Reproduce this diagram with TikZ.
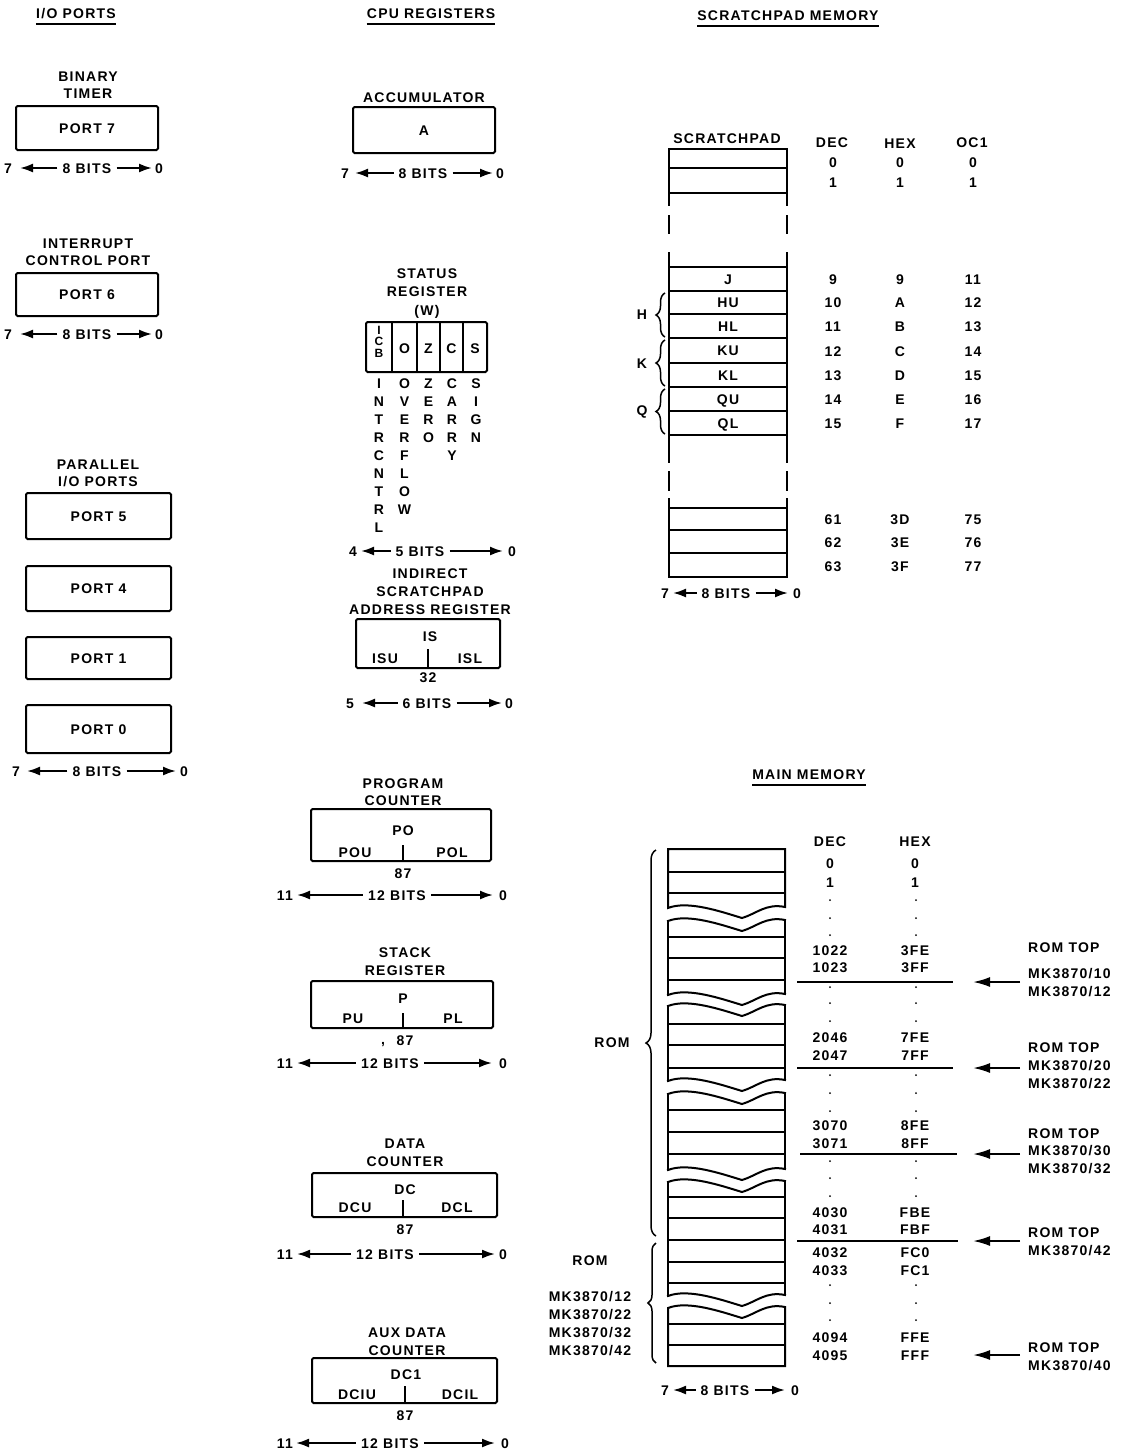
\documentclass[tikz,border=0pt]{standalone}
\usepackage{fontspec}
\setmainfont{Liberation Sans}[LetterSpace=9]
\usetikzlibrary{arrows.meta,decorations.pathreplacing}

\newcommand\bitrow[9]{%
  \node[lbl] (#1L) at (#3,#2) {#4};
  \node[lbl] (#1M) at (#6,#2) {#7};
  \node[lbl] (#1R) at (#9,#2) {0};
  \coordinate (#1a) at (#5,#2);
  \coordinate (#1b) at (#8,#2);
  \draw[bitarrow] ([xshift=-5pt]#1M.west) -- (#1a);
  \draw[bitarrow] ([xshift=5pt]#1M.east) -- (#1b);
}
\newcommand\wavy[1]{(668,#1) .. controls (688,#1-8) and (722,#1+4) .. (742,#1+10) .. controls (756,#1+6) and (766,#1-5) .. (785,#1-1)}

\begin{document}
\begin{tikzpicture}[x=1pt,y=-1pt,
  lbl/.style={font=\fontsize{14}{16}\selectfont\bfseries, inner sep=0pt, text height=10pt, text depth=0pt},
  icb/.style={lbl, font=\fontsize{12}{14}\selectfont\bfseries, text height=8.6pt},
  regbox/.style={lbl, draw, line width=2pt, rounded corners=1.5pt},
  bitarrow/.style={line width=2pt, -{Latex[length=13pt,width=9pt]}},
  bigarrow/.style={line width=2pt, -{Latex[length=17pt,width=10pt]}},
  uline/.style={line width=1.8pt},
  mem/.style={line width=2pt, line cap=rect},
  thinl/.style={line width=1.6pt},
  brc/.style={decorate, decoration={brace, amplitude=#1}, line width=1.5pt}
]
\fill[white] (0,0) rectangle (1136,1452);
\useasboundingbox (0,0) rectangle (1136,1452);

% ---------- headings ----------
\node[lbl] (hio) at (76,13) {I/O PORTS};
\node[lbl] (hcpu) at (431,13) {CPU REGISTERS};
\node[lbl] (hsp) at (788,15) {SCRATCHPAD MEMORY};
\node[lbl] (hmm) at (809,774) {MAIN MEMORY};
\foreach \h in {hio,hcpu,hsp,hmm}
  \draw[uline] ([yshift=-6pt]\h.south west) -- ([yshift=-6pt]\h.south east);

% ---------- I/O ports ----------
\node[lbl] (t1a) at (88,76) {BINARY};
\node[lbl] (t1b) at (88,93) {TIMER};
\node[regbox, minimum width=142pt, minimum height=44pt] (p7) at (87,128) {PORT 7};
\bitrow{bA}{168}{8}{7}{20}{87}{8 BITS}{152}{159}

\node[lbl] (t2a) at (88,243) {INTERRUPT};
\node[lbl] (t2b) at (88,260) {CONTROL PORT};
\node[regbox, minimum width=142pt, minimum height=43pt] (p6) at (87,294.5) {PORT 6};
\bitrow{bB}{334}{8}{7}{20}{87}{8 BITS}{152}{159}

\node[lbl] (t3a) at (98,464) {PARALLEL};
\node[lbl] (t3b) at (98,481) {I/O PORTS};
\node[regbox, minimum width=145pt, minimum height=46pt] (p5) at (98.5,516) {PORT 5};
\node[regbox, minimum width=145pt, minimum height=45pt] (p4) at (98.5,588.5) {PORT 4};
\node[regbox, minimum width=145pt, minimum height=42pt] (p1) at (98.5,658) {PORT 1};
\node[regbox, minimum width=145pt, minimum height=48pt] (p0) at (98.5,729) {PORT 0};
\bitrow{bC}{771}{16}{7}{27}{97}{8 BITS}{176}{184}

% ---------- CPU registers ----------
\node[lbl] (acct) at (424,97) {ACCUMULATOR};
\node[regbox, minimum width=142pt, minimum height=46pt] (acc) at (424,130) {A};
\bitrow{bD}{173}{345}{7}{355}{423}{8 BITS}{493}{500}

\node[lbl] (srt1) at (427,273) {STATUS};
\node[lbl] (srt2) at (427,291) {REGISTER};
\node[lbl] (srt3) at (427,310) {(W)};
\node[regbox, minimum width=121pt, minimum height=50pt] (sr) at (426.5,347) {};
\foreach \x in {392,417,440,463} \draw[line width=1.8pt] (\x,322) -- (\x,372);
\node[icb] (icb1) at (379,330) {I};
\node[icb] (icb2) at (379,341.5) {C};
\node[icb] (icb3) at (379,353) {B};
\node[lbl] (fo) at (404.5,348) {O};
\node[lbl] (fz) at (428.5,348) {Z};
\node[lbl] (fc) at (451.5,348) {C};
\node[lbl] (fs) at (475,348) {S};
\foreach \c [count=\i from 0] in {I,N,T,R,C,N,T,R,L} \node[lbl] (ci\i) at (379,383+18.1*\i) {\c};
\foreach \c [count=\i from 0] in {O,V,E,R,F,L,O,W} \node[lbl] (co\i) at (404.5,383+18.1*\i) {\c};
\foreach \c [count=\i from 0] in {Z,E,R,O} \node[lbl] (cz\i) at (428.5,383+18.1*\i) {\c};
\foreach \c [count=\i from 0] in {C,A,R,R,Y} \node[lbl] (cc\i) at (452,383+18.1*\i) {\c};
\foreach \c [count=\i from 0] in {S,I,G,N} \node[lbl] (cs\i) at (476,383+18.1*\i) {\c};
\bitrow{bE}{551}{353}{4}{361}{420}{5 BITS}{503}{512}

\node[lbl] (ist1) at (430,573) {INDIRECT};
\node[lbl] (ist2) at (430,591) {SCRATCHPAD};
\node[lbl] (ist3) at (430,609) {ADDRESS REGISTER};
\node[regbox, minimum width=144pt, minimum height=49pt] (isr) at (428,643.5) {};
\node[lbl] (is) at (430,636) {IS};
\node[lbl] (isu) at (385,658) {ISU};
\node[lbl] (isl) at (470,658) {ISL};
\coordinate (isd) at (428,649);
\draw[thinl] (isd) -- (isd |- isr.south);
\node[lbl] (is32) at (428,677) {32};
\bitrow{bF}{703}{350}{5}{362}{427}{6 BITS}{502}{509}

\node[lbl] (pct1) at (403,783) {PROGRAM};
\node[lbl] (pct2) at (403,800) {COUNTER};
\node[regbox, minimum width=180pt, minimum height=52pt] (pc) at (401,835) {};
\node[lbl] (po) at (403,830) {PO};
\node[lbl] (pou) at (355,852) {POU};
\node[lbl] (pol) at (452,852) {POL};
\coordinate (pcd) at (403,845);
\draw[thinl] (pcd) -- (pcd |- pc.south);
\node[lbl] (pc87) at (403,873) {87};
\bitrow{bG}{895}{285}{11}{297}{397}{12 BITS}{493}{503}

\node[lbl] (stt1) at (405,952) {STACK};
\node[lbl] (stt2) at (405,970) {REGISTER};
\node[regbox, minimum width=182pt, minimum height=47pt] (st) at (402,1004.5) {};
\node[lbl] (p) at (403,998) {P};
\node[lbl] (pu) at (353,1018) {PU};
\node[lbl] (pl) at (453,1018) {PL};
\coordinate (std) at (403,1013);
\draw[thinl] (std) -- (std |- st.south);
\node[lbl] (st87) at (405,1040) {87};
\node[lbl, anchor=base] (stcm) at (383,1044) {,};
\bitrow{bH}{1063}{285}{11}{297}{390}{12 BITS}{492}{503}

\node[lbl] (dct1) at (405,1143) {DATA};
\node[lbl] (dct2) at (405,1161) {COUNTER};
\node[regbox, minimum width=185pt, minimum height=44pt] (dc) at (404.5,1195) {};
\node[lbl] (dcn) at (405,1189) {DC};
\node[lbl] (dcu) at (355,1207) {DCU};
\node[lbl] (dcl) at (457,1207) {DCL};
\coordinate (dcd) at (403,1200);
\draw[thinl] (dcd) -- (dcd |- dc.south);
\node[lbl] (dc87) at (405,1229) {87};
\bitrow{bI}{1254}{285}{11}{297}{385}{12 BITS}{495}{503}

\node[lbl] (adt1) at (407,1332) {AUX DATA};
\node[lbl] (adt2) at (407,1350) {COUNTER};
\node[regbox, minimum width=185pt, minimum height=45pt] (adc) at (404.5,1380.5) {};
\node[lbl] (dc1) at (406,1374) {DC1};
\node[lbl] (dciu) at (357,1394) {DCIU};
\node[lbl] (dcil) at (460,1394) {DCIL};
\coordinate (add) at (405,1386);
\draw[thinl] (add) -- (add |- adc.south);
\node[lbl] (ad87) at (405,1415) {87};
\bitrow{bJ}{1443}{285}{11}{296}{390}{12 BITS}{495}{505}

% ---------- scratchpad memory ----------
\node[lbl] (spt) at (727,138) {SCRATCHPAD};
\node[lbl] (spdec) at (832,142) {DEC};
\node[lbl] (sphex) at (900,143) {HEX};
\node[lbl] (spoc) at (972,142) {OC1};
\foreach \y in {149,168,193,267,291,314,338,363,387,411,435,508,530,553,577}
  \draw[mem] (669,\y) -- (787,\y);
\foreach \a/\b in {149/205,216/233,253/462,472/490,499/577}
  {\draw[mem] (669,\a) -- (669,\b); \draw[mem] (787,\a) -- (787,\b);}
\foreach \t/\y [count=\i] in {J/279,HU/302.5,HL/326,KU/350.5,KL/375,QU/399,QL/423}
  \node[lbl] (spr\i) at (728,\y) {\t};
\foreach \y/\d/\h/\o [count=\i] in {162/0/0/0,182/1/1/1,279/9/9/11,302/10/A/12,326/11/B/13,351/12/C/14,375/13/D/15,399/14/E/16,423/15/F/17,519/61/3D/75,542/62/3E/76,566/63/3F/77}
  {\node[lbl] (sd\i) at (833,\y) {\d};
   \node[lbl] (sh\i) at (900,\y) {\h};
   \node[lbl] (so\i) at (973,\y) {\o};}
\draw[brc=9pt] (665,337) -- (665,293);
\draw[brc=9pt] (665,386) -- (665,340);
\draw[brc=9pt] (665,434) -- (665,389);
\node[lbl] (bh) at (642,314) {H};
\node[lbl] (bk) at (642,363) {K};
\node[lbl] (bq) at (642,410) {Q};
\bitrow{bK}{593}{665}{7}{673}{726}{8 BITS}{788}{797}

% ---------- main memory ----------
\node[lbl] (mmdec) at (830,841) {DEC};
\node[lbl] (mmhex) at (915,841) {HEX};
% segment 1
\draw[mem] (785,849) -- (668,849) -- \wavy{908} -- cycle;
\foreach \y in {872,893} \draw[mem] (668,\y) -- (785,\y);
% segment 2
\draw[mem] (668,921) -- (668,995); \draw[mem] (785,920) -- (785,994);
\draw[mem] \wavy{921}; \draw[mem] \wavy{995};
\foreach \y in {937,958,980} \draw[mem] (668,\y) -- (785,\y);
% segment 3
\draw[mem] (668,1006) -- (668,1081); \draw[mem] (785,1005) -- (785,1080);
\draw[mem] \wavy{1006}; \draw[mem] \wavy{1081};
\foreach \y in {1024,1045,1068} \draw[mem] (668,\y) -- (785,\y);
% segment 4
\draw[mem] (668,1094) -- (668,1170); \draw[mem] (785,1093) -- (785,1169);
\draw[mem] \wavy{1094}; \draw[mem] \wavy{1170};
\foreach \y in {1110,1132,1154} \draw[mem] (668,\y) -- (785,\y);
% segment 5
\draw[mem] (668,1182) -- (668,1296); \draw[mem] (785,1181) -- (785,1295);
\draw[mem] \wavy{1182}; \draw[mem] \wavy{1296};
\foreach \y in {1197,1218,1240,1262,1283} \draw[mem] (668,\y) -- (785,\y);
% segment 6
\draw[mem] (668,1366) -- (668,1308) -- \wavy{1308} -- (785,1366) -- cycle;
\foreach \y in {1324,1345} \draw[mem] (668,\y) -- (785,\y);

\foreach \y/\d/\h [count=\i] in {863/0/0,882/1/1,950/1022/3FE,967/1023/3FF,1037/2046/7FE,1055/2047/7FF,1125/3070/8FE,1143/3071/8FF,1212/4030/FBE,1229/4031/FBF,1252/4032/FC0,1270/4033/FC1,1337/4094/FFE,1355/4095/FFF}
  {\node[lbl] (md\i) at (830,\y) {\d};
   \node[lbl] (mh\i) at (915,\y) {\h};}
\foreach \y in {900,918,935,987,1003,1021,1075,1093,1111,1161,1178,1196,1285,1303,1320}
  {\fill (830,\y) circle (1pt); \fill (916,\y) circle (1pt);}
\foreach \y/\a/\b in {982/797/953,1068/797/953,1154/800/957,1241/797/958}
  \draw[thinl] (\a,\y) -- (\b,\y);
\foreach \y [count=\i] in {982,1068,1154,1241,1355}
  {\coordinate (ra\i) at (1020,\y); \coordinate (rb\i) at (973,\y);
   \draw[bigarrow] (ra\i) -- (rb\i);}
\node[lbl, anchor=west] (rl1) at (1028,947) {ROM TOP};
\node[lbl, anchor=west] (rl2) at (1028,973) {MK3870/10};
\node[lbl, anchor=west] (rl3) at (1028,991) {MK3870/12};
\node[lbl, anchor=west] (rl4) at (1028,1047) {ROM TOP};
\node[lbl, anchor=west] (rl5) at (1028,1065) {MK3870/20};
\node[lbl, anchor=west] (rl6) at (1028,1083) {MK3870/22};
\node[lbl, anchor=west] (rl7) at (1028,1133) {ROM TOP};
\node[lbl, anchor=west] (rl8) at (1028,1150) {MK3870/30};
\node[lbl, anchor=west] (rl9) at (1028,1168) {MK3870/32};
\node[lbl, anchor=west] (rl10) at (1028,1232) {ROM TOP};
\node[lbl, anchor=west] (rl11) at (1028,1250) {MK3870/42};
\node[lbl, anchor=west] (rl12) at (1028,1347) {ROM TOP};
\node[lbl, anchor=west] (rl13) at (1028,1365) {MK3870/40};

\draw[brc=10pt] (656,1236) -- (656,850);
\draw[brc=8pt] (656,1363) -- (656,1243);
\node[lbl] (rom1) at (612,1042) {ROM};
\node[lbl] (rom2) at (590,1260) {ROM};
\node[lbl] (ml1) at (590,1296) {MK3870/12};
\node[lbl] (ml2) at (590,1314) {MK3870/22};
\node[lbl] (ml3) at (590,1332) {MK3870/32};
\node[lbl] (ml4) at (590,1350) {MK3870/42};
\bitrow{bL}{1390}{665}{7}{673}{725}{8 BITS}{785}{795}
\end{tikzpicture}
\end{document}
